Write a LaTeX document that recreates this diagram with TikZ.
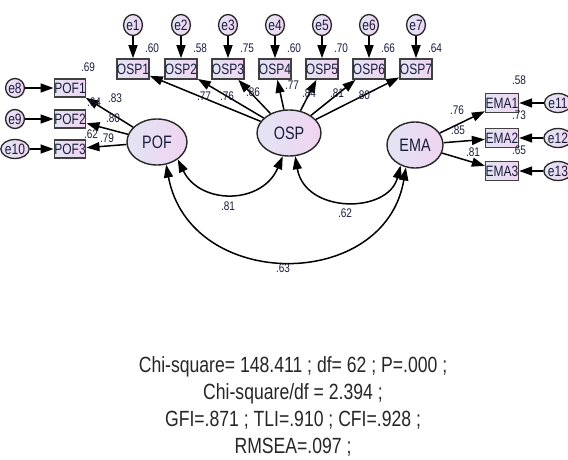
\documentclass[tikz,border=0pt]{standalone}
\usepackage{fontspec}
\setmainfont{Liberation Sans}[FakeStretch=0.8]
\usetikzlibrary{arrows.meta,shapes.geometric}
\definecolor{txt}{RGB}{25,30,60}
\definecolor{fillL}{RGB}{226,228,244}
\definecolor{fillR}{RGB}{240,212,240}
\begin{document}
\begin{tikzpicture}[x=1pt,y=-1pt,
 lat/.style={ellipse, draw=black!85, line width=1.4pt, left color=fillL, right color=fillR, inner sep=0pt, minimum width=60pt, minimum height=46pt, font=\fontsize{18}{18}\selectfont, text=txt},
 obs/.style={rectangle, draw=black!75, line width=1.6pt, left color=fillL, right color=fillR, inner sep=0pt, minimum width=32pt, minimum height=20pt, font=\fontsize{15}{15}\selectfont, text=txt},
 err/.style={ellipse, draw=black!85, line width=1.3pt, left color=fillL, right color=fillR, inner sep=0pt, minimum width=17pt, minimum height=21pt, font=\fontsize{15}{15}\selectfont, text=txt},
 val/.style={font=\fontsize{12.5}{13}\selectfont, text=txt, inner sep=0pt},
 arr/.style={line width=1.5pt, -{Triangle[length=13pt,width=9pt]}},
 cov/.style={line width=1.5pt, {Triangle[length=13pt,width=9pt]}-{Triangle[length=13pt,width=9pt]}},
]
\useasboundingbox[fill=white] (0,0) rectangle (568,460);

% latent variables
\node[lat] (POF) at (157,142) {POF};
\node[lat, minimum width=64pt] (OSP) at (289,133) {OSP};
\node[lat, minimum width=56pt] (EMA) at (415,145) {EMA};

% OSP indicators
\foreach \i/\x/\r/\l/\lx/\ly in {1/133/.60/.77/204/96, 2/181/.58/.76/227/96, 3/228/.75/.86/253/92, 4/275/.60/.77/292/85, 5/322/.70/.84/309/93, 6/369/.66/.81/337/93, 7/416/.64/.80/363/95}{
  \node[err] (e\i) at (\x,25) {e\i};
  \node[obs] (o\i) at (\x,69) {OSP\i};
  \draw[arr] (e\i) -- (o\i);
  \draw[arr] (OSP) -- (o\i);
  \node[val] (r\i) at (\x+19,48) {\r};
  \node[val] (l\i) at (\lx,\ly) {\l};
}

% POF indicators
\foreach \i/\n/\y/\r/\rx/\ry/\l/\lx/\ly in {1/8/88/.69/88/67/.83/115/98, 2/9/119/.64/94/102/.80/113/118, 3/10/149/.62/91/134/.79/107/138}{
  \node[err, minimum width=16pt, minimum height=19pt] (e\n) at (15,\y) {e\n};
  \node[obs, minimum width=30pt, minimum height=18pt] (p\i) at (70,\y) {POF\i};
  \draw[arr] (e\n) -- (p\i);
  \draw[arr] (POF) -- (p\i);
  \node[val] (rp\i) at (\rx,\ry) {\r};
  \node[val] (lp\i) at (\lx,\ly) {\l};
}

% EMA indicators
\foreach \i/\n/\y/\r/\ry/\l/\lx/\ly in {1/11/103/.58/80/.76/457/110, 2/12/138/.73/115/.85/458/130, 3/13/171/.65/150/.81/473/152}{
  \node[err, minimum width=16pt, minimum height=19pt] (e\n) at (558,\y) {e\n};
  \node[obs, minimum width=30pt, minimum height=19pt] (m\i) at (502,\y) {EMA\i};
  \draw[arr] (e\n) -- (m\i);
  \draw[arr] (EMA) -- (m\i);
  \node[val] (rm\i) at (519,\ry) {\r};
  \node[val] (lm\i) at (\lx,\ly) {\l};
}

% covariances
\draw[cov] (POF.-40) .. controls (200,205) and (262,205) .. (OSP.-105);
\draw[cov] (OSP.-75) .. controls (305,214) and (388,214) .. (EMA.-125);
\draw[cov] (POF.-68) .. controls (190,292) and (385,292) .. (EMA.-112);
\node[val] (c1) at (228,206) {.81};
\node[val] (c2) at (345,213) {.62};
\node[val] (c3) at (283,268) {.63};

% fit statistics
\node[font=\fontsize{22}{27}\selectfont, align=center, text=black!85] (fit) at (293,406)
{Chi-square= 148.411 ; df= 62 ; P=.000 ;\\ Chi-square/df = 2.394 ;\\ GFI=.871 ; TLI=.910 ; CFI=.928 ;\\ RMSEA=.097 ;};
\end{tikzpicture}
\end{document}
